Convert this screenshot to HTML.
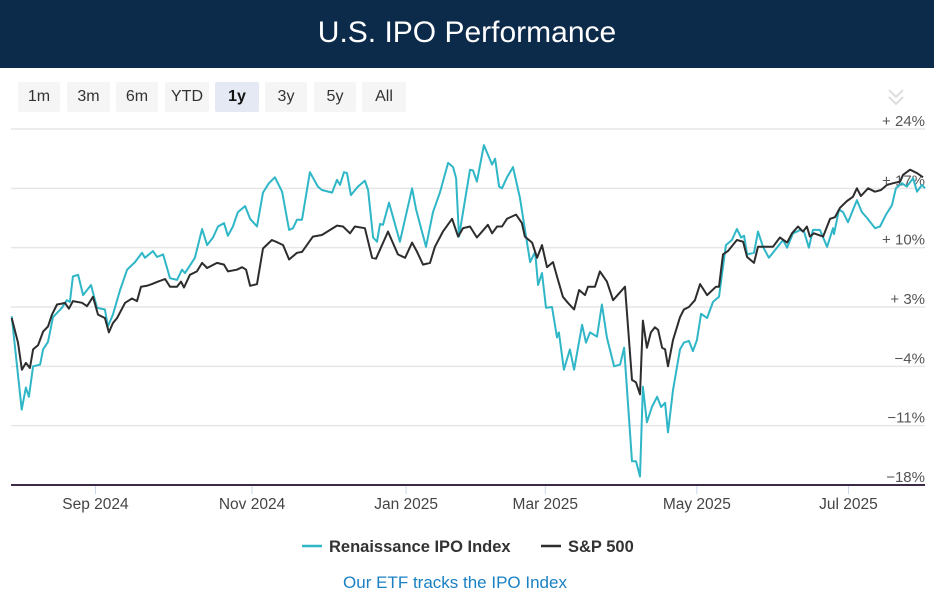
<!DOCTYPE html>
<html><head><meta charset="utf-8">
<style>
body{margin:0;width:934px;height:602px;background:#fff;font-family:"Liberation Sans",sans-serif;overflow:hidden;position:relative}
#hdr{position:absolute;left:0;top:0;width:934px;height:68px;background:#0c2a4a;color:#fff;font-size:30px;text-align:center;line-height:66px}
.btn{position:absolute;top:82px;height:30px;line-height:30px;background:#f5f5f5;border-radius:2px;font-size:16px;color:#333;text-align:center}
.btn.sel{background:#e4e9f4;font-weight:bold;color:#111}
svg{position:absolute;left:0;top:0}
</style></head><body>
<div id="hdr">U.S. IPO Performance</div>
<div class="btn" style="left:18px;width:42px">1m</div>
<div class="btn" style="left:67px;width:43px">3m</div>
<div class="btn" style="left:116px;width:42px">6m</div>
<div class="btn" style="left:165px;width:44px">YTD</div>
<div class="btn sel" style="left:215px;width:44px">1y</div>
<div class="btn" style="left:265px;width:42px">3y</div>
<div class="btn" style="left:314px;width:42px">5y</div>
<div class="btn" style="left:362px;width:44px">All</div>
<svg id="chart" width="934" height="602"></svg>
<script>
const yTicks=[24,17,10,3,-4,-11,-18];
const yTickLabels=["+ 24%","+ 17%","+ 10%","+ 3%","\u22124%","\u221211%","\u221218%"];
const xTickDays=[34,97,159,215,276,337];
const xTickLabels=["Sep 2024","Nov 2024","Jan 2025","Mar 2025","May 2025","Jul 2025"];
const ipoDays=[0.3,4.3,6,7.2,8.9,11.7,12.9,14.9,16.9,20.5,22.5,23.7,24.9,27,29,32.2,34.6,37.8,39,41,43.9,46.7,49.9,52.7,53.9,57.1,58.8,61.2,64,66.8,68.8,70,74,76.9,78.9,81.3,83.3,85.7,87.3,89.3,91.3,94.2,96.2,99,101.4,103.8,106.2,109.1,111.9,113.5,115.1,117.1,120.3,123.5,125.1,129.2,131.2,132.4,134,135.2,136.8,139.6,142.4,143.7,145.7,147.3,148.5,149.7,152.1,156.5,161.4,163,167,169.8,172.6,175.9,177.9,179.1,180.3,184.7,185.9,187.5,190.3,193.6,194.8,196.4,197.6,199.6,202,204.8,208.9,210.9,212.1,213.7,215.3,217.7,219.7,220.5,222.5,224.9,226.6,229.8,231.4,233,235.8,237.8,239.8,242.7,245.1,246.7,249.9,251.5,253.1,254.3,255.9,257.9,260,261.6,263.2,264.4,266.4,269.2,270.8,272.8,274.4,276,277.7,280.1,282.5,284.9,287.7,290.1,292.1,293.8,295,296.2,299,300.6,302.6,305,308.2,310.7,312.3,314.7,316.3,317.5,319.1,321.1,322.7,325.5,328.4,330.8,331.2,333.2,334.8,336.8,340.4,342.4,344.5,347.7,349.7,352.1,354.5,356.1,358.5,360.5,363,364.6,366.6,367.8];
const ipoValues=[1.9,-9.1,-6.5,-7.6,-4.0,-3.8,-2.0,-1.1,1.8,2.9,3.8,3.6,6.6,6.8,4.4,5.6,2.9,2.7,0.7,2.1,5.0,7.4,8.3,9.4,8.8,9.6,8.9,9.2,6.4,6.2,7.4,7.0,8.8,12.2,10.3,11.2,12.5,12.9,11.4,12.5,14.2,14.9,13.4,12.5,16.5,17.6,18.3,16.6,12.1,12.3,13.3,13.3,18.9,17.2,16.8,16.5,18.0,17.4,18.9,18.8,16.2,17.2,17.9,16.8,11.2,10.7,12.8,12.7,15.3,10.7,17.0,14.5,10.1,14.2,16.5,20.0,19.5,18.2,11.3,19.2,19.1,17.8,22.1,19.8,20.5,17.2,17.0,18.3,19.5,15.9,8.3,9.5,5.6,7.0,2.9,3.0,-0.6,0.0,-4.4,-2.0,-4.4,0.9,-1.2,0.0,-0.5,3.3,-0.6,-4.0,-3.8,-1.8,-15.2,-15.2,-17.0,-6.4,-10.6,-8.8,-7.6,-8.8,-8.3,-11.8,-6.8,-2.0,-1.2,-1.0,-2.2,-0.9,2.2,1.7,3.6,4.2,10.3,10.9,12.2,11.2,11.4,9.2,9.4,11.9,10.1,8.8,10.0,10.9,10.0,11.7,11.9,12.1,11.9,10.0,12.1,12.1,10.1,12.3,11.6,14.5,14.2,13.0,15.6,14.2,13.5,12.3,12.5,13.9,15.0,17.0,17.6,17.2,18.2,16.6,17.4,17.0];
const spxDays=[0.3,2.8,4.4,6,7.6,8.9,10.9,12.9,14.9,16.5,18.5,20.5,21.7,23.3,24.9,28.6,30.6,33,35,37.8,39.4,41,42.7,45.9,48.7,50.7,52.3,54.7,56.7,59.2,62,64,66.8,68.4,69.6,72,74.8,76.9,78.9,82.9,85.7,87.3,90.9,93,94.6,96.2,99,101.4,105,107.4,109.5,111.9,115.1,117.1,121.5,125.1,131.2,133.6,136.4,138.4,142.4,145.3,146.9,151.7,155.7,158.6,161.4,163.4,165.8,168.6,170.6,173.8,177.5,179.9,181.9,184.7,187.5,191.9,193.6,195.6,197.6,199.6,203.2,205.6,206.8,209.7,211.7,213.7,215.7,218.1,219.7,222.1,224.1,226.6,228.6,231,232.2,235,237,239.8,242.3,247.1,249.9,251.5,253.1,254.3,255.9,257.5,259.1,260.4,262,263.2,264.4,266.4,269.2,270.8,272.8,275.2,277.3,280.1,283.7,284.9,286.5,288.5,292.1,294.6,296.2,299,300.6,304.2,306.6,309.4,312.3,314.3,316.7,318.7,320.3,321.5,323.1,326.8,329.6,331.6,333.6,336.4,338.8,340.4,342,344.9,347.7,350.1,352.5,355,357.8,359,361.8,364.6,367];
const spxValues=[1.7,-1.2,-4.4,-3.6,-4.2,-2.0,-1.5,0.1,0.7,2.1,3.3,3.4,3.5,2.8,3.7,3.5,3.1,4.2,2.1,1.7,0.0,1.1,1.7,3.5,4.0,3.7,5.4,5.5,5.7,6.0,6.3,5.4,5.4,6.0,5.3,6.8,7.2,8.2,7.6,8.2,8.0,7.2,7.4,7.7,7.4,5.5,5.7,9.9,10.9,10.6,10.3,8.6,9.4,9.5,11.3,11.5,12.6,12.5,11.7,12.5,12.3,8.8,8.7,11.9,9.2,8.8,10.6,9.5,8.0,8.2,10.1,11.9,13.4,11.3,12.3,12.5,11.2,12.7,11.7,12.5,12.5,13.4,13.9,12.9,11.3,10.6,8.8,10.3,7.7,8.3,6.6,4.2,3.5,2.7,5.0,4.4,5.4,5.4,7.2,6.0,3.8,5.4,-5.6,-5.9,-7.3,1.4,-1.8,0.0,0.6,0.3,-1.8,-2.0,-4.0,-0.9,1.8,2.7,3.0,3.8,5.7,4.4,5.4,5.4,9.2,9.6,10.9,10.7,8.9,8.2,10.1,10.1,10.1,11.2,10.6,11.7,12.5,11.9,12.5,11.3,11.7,11.3,13.4,13.6,14.7,15.5,16.0,17.0,16.1,17.0,16.6,16.8,17.4,17.6,17.8,18.6,19.2,18.8,18.3];

const NS="http://www.w3.org/2000/svg";
const svg=document.getElementById('chart');
const X0=11,X1=923,D0=0,D1=367,Y0=129,Y1=485,V0=24,V1=-18;
const xs=d=>X0+(d-D0)/(D1-D0)*(X1-X0);
const ys=v=>Y0+(V0-v)/(V0-V1)*(Y1-Y0);
function mk(t,a,txt){const e=document.createElementNS(NS,t);for(const k in a)e.setAttribute(k,a[k]);if(txt!==undefined)e.textContent=txt;svg.appendChild(e);return e;}
yTicks.forEach((v,i)=>{
  if(i<yTicks.length-1){const g=mk('line',{x1:11,x2:925,y1:ys(v),y2:ys(v),stroke:'#e6e6e6','stroke-width':1.5});
  
  }
  const t=mk('text',{x:925,y:ys(v)-3,'text-anchor':'end','font-size':15,fill:'#555','font-family':'Liberation Sans, sans-serif'},yTickLabels[i]);
  
  
});
xTickDays.forEach((d,i)=>{
  const tk=mk('line',{x1:xs(d),x2:xs(d),y1:485,y2:494,stroke:'#ccd6eb','stroke-width':1});
  
  
  const t=mk('text',{x:xs(d),y:509,'text-anchor':'middle','font-size':15.5,fill:'#444','font-family':'Liberation Sans, sans-serif'},xTickLabels[i]);
  
  
});
const ax=mk('line',{x1:11,x2:925,y1:485,y2:485,stroke:'#3b2a45','stroke-width':2});


function path(ds,vs){return ds.map((d,i)=>(i?'L':'M')+xs(d).toFixed(1)+','+ys(vs[i]).toFixed(1)).join('');}
const p1=mk('path',{d:path(ipoDays,ipoValues),fill:'none',stroke:'#2fb6c7','stroke-width':2,'stroke-linejoin':'round'});


const p2=mk('path',{d:path(spxDays,spxValues),fill:'none',stroke:'#2d2d2d','stroke-width':2,'stroke-linejoin':'round'});


const ch=mk('path',{d:'M889,90 L896,97 L903,90 M889,97 L896,104 L903,97',fill:'none',stroke:'#ddd','stroke-width':2});


const l1=mk('line',{x1:302,x2:322,y1:546,y2:546,stroke:'#2fb6c7','stroke-width':2.5});


const lt1=mk('text',{x:329,y:552,'font-size':16.5,'font-weight':'bold',fill:'#333','font-family':'Liberation Sans, sans-serif'},'Renaissance IPO Index');


const l2=mk('line',{x1:541,x2:561,y1:546,y2:546,stroke:'#2d2d2d','stroke-width':2.5});


const lt2=mk('text',{x:568,y:552,'font-size':16.5,'font-weight':'bold',fill:'#333','font-family':'Liberation Sans, sans-serif'},'S&P 500');


const lk=mk('text',{x:455,y:588,'text-anchor':'middle','font-size':17,fill:'#1a80c4','font-family':'Liberation Sans, sans-serif'},'Our ETF tracks the IPO Index');


</script>
</body></html>
